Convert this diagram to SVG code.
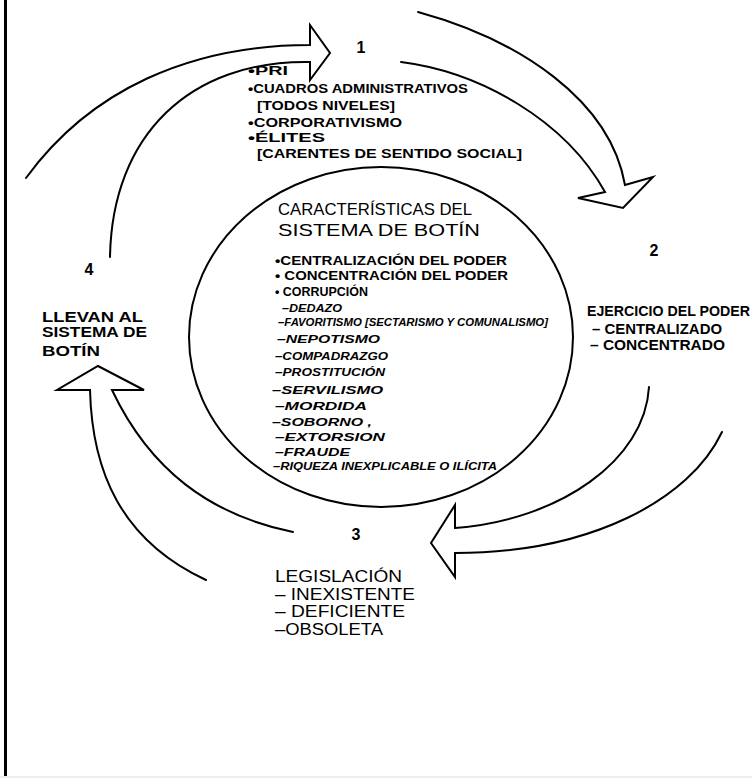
<svg xmlns="http://www.w3.org/2000/svg" width="752" height="778" viewBox="0 0 752 778">
<style>
.t{font-family:"Liberation Sans","DejaVu Sans",sans-serif;fill:#000;font-weight:bold}
.s{font-size:12px}
.i{font-size:11px;font-style:italic}
.m{font-size:14px}
.l{font-size:16px;font-weight:normal}
.h{font-size:17px;font-weight:normal}
.n{font-size:16px}
.c{fill:none;stroke:#000;stroke-width:2;stroke-linejoin:miter;stroke-linecap:round}
</style>
<rect width="752" height="778" fill="#fff"/>
<rect x="4" y="0" width="3" height="776" fill="#000"/>
<line x1="0" y1="777" x2="752" y2="777" stroke="#ddd" stroke-width="1"/>
<g id="connectors">
<path class="c" d="M26,178 C90,90 190,45 310,45 L310,25 L330,53 L310,80 L310,62 C190,60 112,135 110,257"/>
<path class="c" d="M418,12 C520,40 610,100 625,185 L653,177 L623,208 L578,198 L605,192 C565,120 480,72 401,62"/>
<path class="c" d="M649,387 C645,460 560,520 455,528 L455,505 L431,543 L455,577 L455,553 C590,553 690,500 722,432"/>
<path class="c" d="M293,532 C210,515 150,470 112,390 L144,390 L98,366 L57,390 L90,390 C92,470 120,540 206,580"/>
</g>
<g id="center">
<ellipse cx="381" cy="337" rx="192" ry="170" fill="none" stroke="#000" stroke-width="2"/>
<text class="t h" x="278" y="215" textLength="194" lengthAdjust="spacingAndGlyphs">CARACTERÍSTICAS DEL</text>
<text class="t h" x="278" y="236" textLength="202" lengthAdjust="spacingAndGlyphs">SISTEMA DE BOTÍN</text>
<text class="t s" x="275" y="265" textLength="232" lengthAdjust="spacingAndGlyphs">•CENTRALIZACIÓN DEL PODER</text>
<text class="t s" x="275" y="280" textLength="233" lengthAdjust="spacingAndGlyphs">• CONCENTRACIÓN DEL PODER</text>
<text class="t s" x="275" y="296" textLength="93" lengthAdjust="spacingAndGlyphs">• CORRUPCIÓN</text>
<text class="t i" x="282" y="312" textLength="60" lengthAdjust="spacingAndGlyphs">–DEDAZO</text>
<text class="t i" x="278" y="326" textLength="270" lengthAdjust="spacingAndGlyphs">–FAVORITISMO [SECTARISMO Y COMUNALISMO]</text>
<text class="t i" x="277" y="343" textLength="103" lengthAdjust="spacingAndGlyphs">–NEPOTISMO</text>
<text class="t i" x="275" y="360" textLength="113" lengthAdjust="spacingAndGlyphs">–COMPADRAZGO</text>
<text class="t i" x="275" y="376" textLength="110" lengthAdjust="spacingAndGlyphs">–PROSTITUCIÓN</text>
<text class="t i" x="272" y="394" textLength="111" lengthAdjust="spacingAndGlyphs">–SERVILISMO</text>
<text class="t i" x="275" y="410" textLength="92" lengthAdjust="spacingAndGlyphs">–MORDIDA</text>
<text class="t i" x="272" y="426" textLength="100" lengthAdjust="spacingAndGlyphs">–SOBORNO ,</text>
<text class="t i" x="275" y="441" textLength="110" lengthAdjust="spacingAndGlyphs">–EXTORSION</text>
<text class="t i" x="275" y="456" textLength="75" lengthAdjust="spacingAndGlyphs">–FRAUDE</text>
<text class="t i" x="273" y="470" textLength="224" lengthAdjust="spacingAndGlyphs">–RIQUEZA INEXPLICABLE O ILÍCITA</text>
</g>
<g id="node-1">
<text class="t n" x="361" y="53" text-anchor="middle">1</text>
<text class="t s" x="248" y="75" textLength="40" lengthAdjust="spacingAndGlyphs">•PRI</text>
<text class="t s" x="248" y="93" textLength="220" lengthAdjust="spacingAndGlyphs">•CUADROS ADMINISTRATIVOS</text>
<text class="t s" x="257" y="110" textLength="138" lengthAdjust="spacingAndGlyphs">[TODOS NIVELES]</text>
<text class="t s" x="248" y="127" textLength="154" lengthAdjust="spacingAndGlyphs">•CORPORATIVISMO</text>
<text class="t s" x="248" y="142" textLength="77" lengthAdjust="spacingAndGlyphs">•ÉLITES</text>
<text class="t s" x="257" y="158" textLength="265" lengthAdjust="spacingAndGlyphs">[CARENTES DE SENTIDO SOCIAL]</text>
</g>
<g id="node-2">
<text class="t n" x="654" y="256" text-anchor="middle">2</text>
<text class="t m" x="587" y="316" textLength="163" lengthAdjust="spacingAndGlyphs">EJERCICIO DEL PODER</text>
<text class="t m" x="592" y="334" textLength="130" lengthAdjust="spacingAndGlyphs">– CENTRALIZADO</text>
<text class="t m" x="590" y="350" textLength="135" lengthAdjust="spacingAndGlyphs">– CONCENTRADO</text>
</g>
<g id="node-3">
<text class="t n" x="356" y="540" text-anchor="middle">3</text>
<text class="t l" x="275" y="582" textLength="127" lengthAdjust="spacingAndGlyphs">LEGISLACIÓN</text>
<text class="t l" x="275" y="600" textLength="140" lengthAdjust="spacingAndGlyphs">– INEXISTENTE</text>
<text class="t l" x="275" y="617" textLength="130" lengthAdjust="spacingAndGlyphs">– DEFICIENTE</text>
<text class="t l" x="275" y="635" textLength="108" lengthAdjust="spacingAndGlyphs">–OBSOLETA</text>
</g>
<g id="node-4">
<text class="t n" x="89" y="275" text-anchor="middle">4</text>
<text class="t m" x="42" y="322" textLength="101" lengthAdjust="spacingAndGlyphs">LLEVAN AL</text>
<text class="t m" x="42" y="337" textLength="105" lengthAdjust="spacingAndGlyphs">SISTEMA DE</text>
<text class="t m" x="42" y="356" textLength="58" lengthAdjust="spacingAndGlyphs">BOTÍN</text>
</g>
</svg>
